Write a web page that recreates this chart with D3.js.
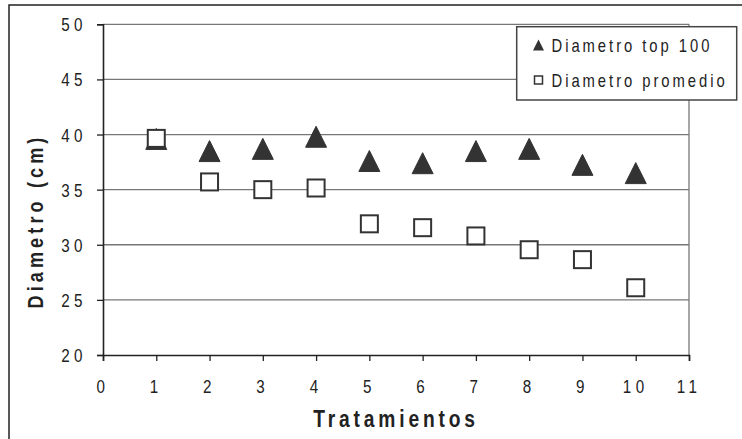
<!DOCTYPE html>
<html><head><meta charset="utf-8">
<script src="https://cdn.jsdelivr.net/npm/d3@7/dist/d3.min.js"></script>
<style>
body{margin:0;background:#fff;}
text{font-family:"Liberation Sans",Arial,sans-serif;fill:#222;}
</style></head>
<body><svg id="c" width="742" height="439"></svg>
<script>
const tratamientos = [1,2,3,4,5,6,7,8,9,10];
const diametroTop100 = [39.6,38.5,38.7,39.8,37.6,37.4,38.5,38.7,37.25,36.5];
const diametroPromedio = [39.65,35.7,35.0,35.15,31.9,31.55,30.8,29.55,28.65,26.1];
const xTicks = [0,1,2,3,4,5,6,7,8,9,10,11];
const yTicks = [20,25,30,35,40,45,50];
const seriesNames = ["Diametro top 100","Diametro promedio"];

const svg = d3.select("#c");
const L=103,R=689,T=24.3,B=355;
const x = d3.scaleLinear().domain([0,11]).range([L,R]);
const y = d3.scaleLinear().domain([20,50]).range([B,T]);
const SX = 0.8;

function label(g, tx, ty, str, opts){
  const t = g.append("text")
    .attr("transform",`translate(${tx},${ty})${opts.rot?" rotate(-90)":""} scale(${SX},1)`)
    .attr("font-size",opts.size).style("letter-spacing",opts.ls+"px")
    .attr("text-anchor",opts.anchor||"start").text(str);
  if(opts.bold) t.attr("font-weight","bold");
  return t;
}

// outer border
svg.append("rect").attr("x",9).attr("y",5).attr("width",760).attr("height",460)
  .attr("fill","#fff").attr("stroke","#222").attr("stroke-width",1.5);

// gridlines
svg.append("g").selectAll("line").data(yTicks.filter(d=>d>20)).join("line")
  .attr("x1",L).attr("x2",R).attr("y1",d=>y(d)).attr("y2",d=>y(d))
  .attr("stroke","#777").attr("stroke-width",1.3);
svg.append("line").attr("x1",R).attr("x2",R).attr("y1",T).attr("y2",B)
  .attr("stroke","#777").attr("stroke-width",1.3);

// axes (lines + ticks from d3 axes, labels drawn condensed)
const yAxis = svg.append("g").attr("transform",`translate(${L},0)`)
  .call(d3.axisLeft(y).tickValues(yTicks).tickSize(6).tickFormat(""));
const xAxis = svg.append("g").attr("transform",`translate(0,${B})`)
  .call(d3.axisBottom(x).tickValues(xTicks).tickSize(6).tickFormat(""));
[yAxis,xAxis].forEach(g=>{
  g.select(".domain").attr("stroke","#222").attr("stroke-width",1.6);
  g.selectAll(".tick line").attr("stroke","#222").attr("stroke-width",1.3);
});
const lab = svg.append("g");
yTicks.forEach(v=>label(lab, 87, y(v)+7, String(v), {size:19, ls:5.6, anchor:"end"}));
xTicks.forEach(v=>label(lab, x(v), 393, String(v), {size:19, ls:5.6, anchor:"middle"}));

// axis titles
label(svg, 396, 427, "Tratamientos", {size:24, ls:4.8, anchor:"middle", bold:true});
label(svg, 42.5, 221, "Diametro (cm)", {size:22.5, ls:5.2, anchor:"middle", bold:true, rot:true});

// markers
const tri = (cx,cy,s)=>`M${cx},${cy-s/2}L${cx+s/2},${cy+s/2}L${cx-s/2},${cy+s/2}Z`;
svg.append("g").selectAll("path").data(tratamientos).join("path")
  .attr("d",(d,i)=>tri(x(d),y(diametroTop100[i]),21))
  .attr("fill","#333").attr("stroke","#333").attr("stroke-width",1);
svg.append("g").selectAll("rect").data(tratamientos).join("rect")
  .attr("x",(d)=>x(d)-8.5).attr("y",(d,i)=>y(diametroPromedio[i])-8.5)
  .attr("width",17).attr("height",17)
  .attr("fill","#fff").attr("stroke","#333").attr("stroke-width",2);

// legend
const lg = svg.append("g");
lg.append("rect").attr("x",516.7).attr("y",26.7).attr("width",220).attr("height",73.3)
  .attr("fill","#fff").attr("stroke","#444").attr("stroke-width",1.5);
lg.append("path").attr("d",tri(538.5,45,11)).attr("fill","#333");
lg.append("rect").attr("x",534.5).attr("y",76).attr("width",8).attr("height",8)
  .attr("fill","#fff").attr("stroke","#333").attr("stroke-width",1.5);
seriesNames.forEach((s,i)=>label(lg, 551.5, 51.5+i*35.5, s, {size:18.5, ls:3.7}));
</script></body></html>
